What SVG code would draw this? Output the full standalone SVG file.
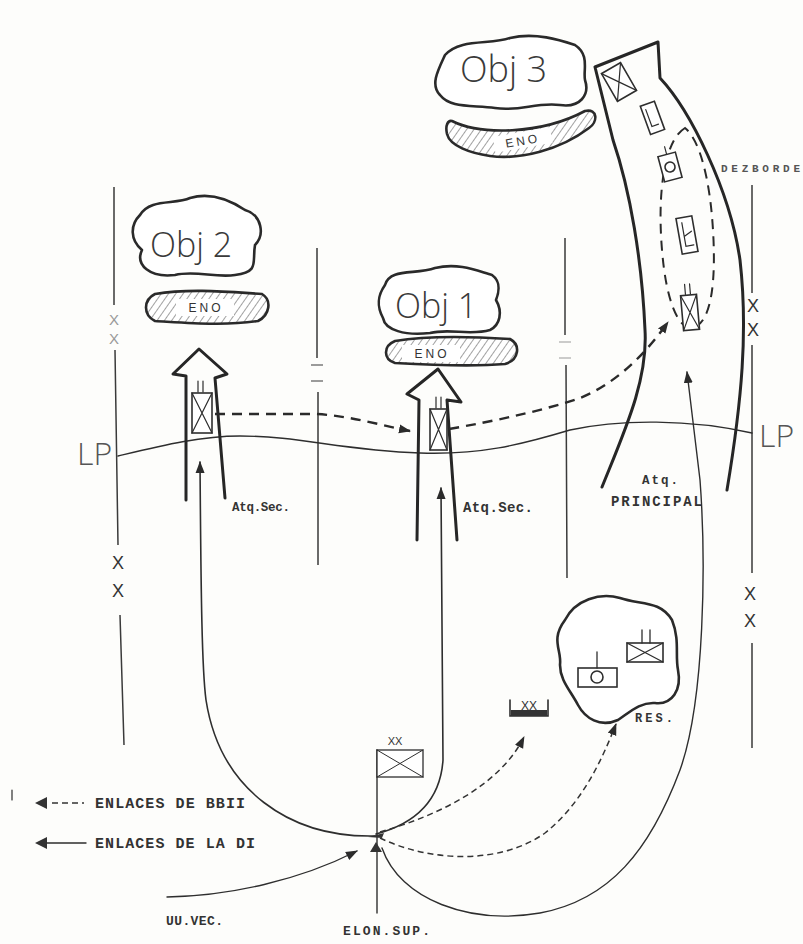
<svg xmlns="http://www.w3.org/2000/svg" width="803" height="944" viewBox="0 0 803 944">
<style>
.ln{fill:none;stroke:#2e2e2e;stroke-width:1.6;stroke-linecap:round}
.bd{fill:none;stroke:#3a3a3a;stroke-width:1.5}
.thick{fill:none;stroke:#262626;stroke-width:3;stroke-linejoin:round;stroke-linecap:round}
.blob{fill:#fff;stroke:#2a2a2a;stroke-width:2.6;stroke-linejoin:round}
.eno{fill:url(#hatch);stroke:#2a2a2a;stroke-width:2.6}
.sym{fill:#fff;stroke:#2e2e2e;stroke-width:1.6}
.dash{fill:none;stroke:#2a2a2a;stroke-width:2.4;stroke-dasharray:10 7}
.cdash{fill:none;stroke:#333;stroke-width:1.5;stroke-dasharray:6 4}
.obj{font-family:"Open Sans","Liberation Sans",Arial,sans-serif;font-weight:300;font-size:34px;fill:#3a3a3a}
.tw{font-family:"Liberation Mono","DejaVu Sans Mono",monospace;fill:#333}
.b{font-weight:bold}
.x{font-family:"Liberation Sans",Arial,sans-serif;font-size:18px;fill:#333;text-anchor:middle}
.enot{font-family:"Liberation Sans",Arial,sans-serif;font-size:12px;fill:#333;text-anchor:middle;letter-spacing:3px}
</style>
<defs>
<pattern id="hatch" width="6" height="6" patternUnits="userSpaceOnUse" patternTransform="rotate(35)">
<rect width="6" height="6" fill="#fff"/>
<line x1="0" y1="0" x2="0" y2="6" stroke="#8a8a8a" stroke-width="1.6"/>
</pattern>
<marker id="ah" viewBox="0 0 12 10" refX="11" refY="5" markerWidth="12" markerHeight="10" markerUnits="userSpaceOnUse" orient="auto">
<path d="M0,0.5 L12,5 L0,9.5 Z" fill="#2b2b2b"/>
</marker>
</defs>
<rect width="803" height="944" fill="#fdfdfb"/>

<g id="boundaries">
<path class="bd" d="M114,187 L114,305 M115,350 L118,545 M120,615 L124,745"/>
<text class="x" x="114" y="325" style="fill:#999;font-size:15px">X</text>
<text class="x" x="114" y="344" style="fill:#999;font-size:15px">X</text>
<text class="x" x="118" y="569">X</text>
<text class="x" x="118" y="597">X</text>
<path class="bd" d="M317,248 L317,358 M318,392 L318,565"/>
<path class="bd" d="M311,365 L323,365 M311,381 L323,381" style="stroke-width:1.2"/>
<path class="bd" d="M565,238 L565,335 M566,365 L567,578"/>
<path class="bd" d="M559,342 L571,342 M559,358 L571,358" style="stroke:#999;stroke-width:1.2"/>
<path class="bd" d="M752,185 L752,293 M752,345 L752,573 M752,643 L752,748"/>
<text class="x" x="753" y="312">X</text>
<text class="x" x="753" y="336">X</text>
<text class="x" x="750" y="600">X</text>
<text class="x" x="750" y="627">X</text>
<text class="tw b" x="721" y="172" style="font-size:11px;fill:#555" textLength="79">DEZBORDE</text>
</g>

<g id="lp-line">
<path class="ln" style="stroke-width:1.4" d="M118,456 C 160,446 200,436 240,436 C 300,436 340,450 420,453 C 480,455 520,445 570,430 C 620,419 690,419 752,433"/>
<text class="obj" x="77" y="465" style="font-size:32px;fill:#555">LP</text>
<text class="obj" x="759" y="447" style="font-size:32px;fill:#555">LP</text>
</g>

<g id="obj2">
<path class="blob" d="M140,215 C 150,198 175,205 190,198 C 210,192 230,200 245,210 C 262,215 265,235 255,245 C 252,262 260,272 235,275 C 215,278 195,270 175,275 C 150,278 135,265 142,250 C 130,240 130,225 140,215 Z"/>
<text class="obj" x="150" y="257">Obj 2</text>
</g>
<g id="eno2">
<path class="eno" d="M155,294 C 190,288 230,292 262,294 C 272,300 270,315 258,321 C 225,326 190,323 155,321 C 143,315 143,300 155,294 Z"/>
<rect x="176" y="299" width="58" height="17" fill="#fff"/>
<text class="enot" x="206" y="312">ENO</text>
</g>

<g id="obj1">
<path class="blob" d="M385,285 C 390,268 415,275 435,268 C 460,262 480,272 492,275 C 502,282 498,295 496,300 C 503,312 500,325 490,330 C 470,336 450,328 430,333 C 405,336 385,330 383,318 C 376,305 378,295 385,285 Z"/>
<text class="obj" x="395" y="318">Obj 1</text>
</g>
<g id="eno1">
<path class="eno" d="M395,341 C 430,335 480,337 510,339 C 521,345 519,360 505,364 C 470,367 430,365 395,363 C 383,359 383,346 395,341 Z"/>
<rect x="402" y="345" width="58" height="17" fill="#fff"/>
<text class="enot" x="432" y="358">ENO</text>
</g>

<g id="obj3">
<path class="blob" d="M445,55 C 460,38 490,45 510,38 C 535,32 560,40 575,45 C 590,55 583,70 585,80 C 590,95 580,108 560,105 C 535,102 520,112 495,108 C 470,105 450,108 440,95 C 430,85 438,70 445,55 Z"/>
<text class="obj" x="460" y="82" style="font-size:36px">Obj 3</text>
</g>
<g id="eno3">
<path class="eno" d="M452,121 C 480,135 540,135 585,111 C 598,108 598,122 589,128 C 560,150 520,160 490,156 C 470,153 450,146 447,134 C 445,125 448,120 452,121 Z"/>
<g transform="rotate(-10 522 142)">
<rect x="494" y="132" width="58" height="16" fill="#fff"/>
<text class="enot" x="523" y="145">ENO</text>
</g>
</g>

<g id="atq-sec-2">
<path class="thick" d="M186,500 L186,376 L173,374 L199,349 L227,374 L215,378 L225,498"/>
<rect class="sym" x="192" y="393" width="20" height="40"/>
<path class="ln" style="stroke-width:1.2" d="M192,393 L212,433 M212,393 L192,433 M198,381 L198,392 M203,381 L203,392"/>
<text class="tw b" x="232" y="511" style="font-size:12.5px" textLength="58">Atq.Sec.</text>
</g>

<g id="atq-sec-1">
<path class="thick" d="M417,540 L419,400 L407,394 L438,369 L461,402 L447,400 L457,540"/>
<rect class="sym" x="430" y="409" width="17" height="41"/>
<path class="ln" style="stroke-width:1.2" d="M430,409 L447,450 M447,409 L430,450 M436,397 L436,408 M441,397 L441,408"/>
<text class="tw b" x="463" y="512" style="font-size:14px" textLength="70">Atq.Sec.</text>
</g>

<g id="atq-principal">
<path class="thick" d="M602,487 C 625,430 648,380 645,330 C 642,260 630,190 613,140 L595,67 L658,42 L660,78 C 690,110 730,190 740,260 C 748,330 742,400 727,490"/>
<path class="dash" d="M685,128 C 665,140 657,190 662,250 C 666,300 678,330 693,328 C 712,322 716,280 713,230 C 710,180 700,140 685,128 Z" style="stroke-width:2"/>
<g transform="rotate(-30 619 82)">
<rect class="sym" x="608" y="66" width="22" height="32"/>
<path class="ln" style="stroke-width:1.2" d="M608,66 L630,98 M630,66 L608,98"/>
</g>
<g transform="rotate(-20 652 118)">
<rect class="sym" x="645" y="103" width="15" height="30"/>
<path class="ln" style="stroke-width:1.2" d="M649,108 L649,126 L656,126"/>
</g>
<g transform="rotate(-15 670 167)">
<rect class="sym" x="661" y="154" width="18" height="26"/>
<circle class="sym" cx="670" cy="167" r="5"/>
<path class="ln" style="stroke-width:1.2" d="M670,146 L670,154"/>
</g>
<g transform="rotate(-10 687 235)">
<rect class="sym" x="679" y="217" width="16" height="36"/>
<path class="ln" style="stroke-width:1.2" d="M684,222 L684,246 L692,246 M684,236 L692,232"/>
</g>
<g transform="rotate(-5 690 312)">
<rect class="sym" x="682" y="295" width="16" height="35"/>
<path class="ln" style="stroke-width:1.2" d="M682,295 L698,330 M698,295 L682,330 M687,284 L687,294 M692,284 L692,294"/>
</g>
<text class="tw b" x="642" y="484" style="font-size:12.5px" textLength="36">Atq.</text>
<text class="tw b" x="611" y="506" style="font-size:14px" textLength="91">PRINCIPAL</text>
</g>

<g id="reserva">
<path class="blob" d="M565,620 C 575,600 600,592 620,598 C 640,605 660,600 672,620 C 680,640 675,655 678,670 C 682,690 672,705 655,703 C 640,702 630,712 618,720 C 600,728 585,718 578,705 C 570,690 560,680 560,665 C 562,650 550,640 565,620 Z"/>
<rect class="sym" x="578" y="668" width="39" height="19"/>
<circle class="sym" cx="597" cy="677" r="6"/>
<path class="ln" style="stroke-width:1.3" d="M597,652 L597,668"/>
<rect class="sym" x="627" y="643" width="36" height="19"/>
<path class="ln" style="stroke-width:1.3" d="M627,643 L663,662 M663,643 L627,662 M642,630 L642,643 M650,630 L650,643"/>
<text class="tw b" x="635" y="722" style="font-size:12px" textLength="38">RES.</text>
</g>

<g id="division-xx">
<path class="ln" style="stroke-width:1.6" d="M510,700 L510,716 L548,716 L548,700"/>
<rect x="511" y="710" width="36" height="6" fill="#333"/>
<text class="x" x="529" y="710" style="font-size:12px">XX</text>
</g>

<g id="elon-sup">
<path class="ln" style="stroke-width:1.4" d="M377,750 L377,913"/>
<rect class="sym" x="377" y="750" width="46" height="27" style="stroke-width:1.3"/>
<path class="ln" style="stroke-width:1" d="M377,750 L423,777 M423,750 L377,777"/>
<text class="x" x="395" y="745" style="font-size:11px">XX</text>
<path d="M370,852 L376,842 L382,852 Z" fill="#333"/>
<path d="M368,837 L384,833 L382,838 Z" fill="#333"/>
<text class="tw b" x="343" y="935" style="font-size:13px" textLength="87">ELON.SUP.</text>
<text class="tw b" x="166" y="925" style="font-size:13px" textLength="57">UU.VEC.</text>
</g>

<g id="legend">
<path class="ln" style="stroke-width:1.2" d="M12,790 L12,800"/>
<path d="M35,803 L47,797 L47,809 Z" fill="#333"/>
<path class="cdash" d="M52,803 L84,803"/>
<text class="tw b" x="95" y="808" style="font-size:15px" textLength="150">ENLACES DE BBII</text>
<path d="M35,843 L47,837 L47,849 Z" fill="#333"/>
<path class="ln" style="stroke-width:1.4" d="M47,843 L86,843"/>
<text class="tw b" x="95" y="848" style="font-size:15px" textLength="160">ENLACES DE LA DI</text>
</g>

<g id="connectors">
<path class="dash" d="M215,414 L317,414 C 350,416 380,425 410,431" marker-end="url(#ah)"/>
<path class="dash" d="M449,429 C 500,420 545,410 580,398 C 615,384 645,355 668,322" marker-end="url(#ah)"/>
<path class="ln" d="M375,836 C 290,838 220,790 206,700 C 202,670 201,600 200,462" marker-end="url(#ah)"/>
<path class="ln" d="M376,834 C 410,825 440,805 443,760 L441,488" marker-end="url(#ah)"/>
<path class="cdash" d="M380,832 C 440,815 500,785 524,737" marker-end="url(#ah)"/>
<path class="cdash" d="M380,838 C 430,862 500,865 545,833 C 580,805 600,765 616,724" marker-end="url(#ah)"/>
<path class="ln" style="stroke-width:1.4" d="M382,848 C 400,900 470,925 540,913 C 610,900 650,850 680,770 C 705,700 706,560 700,480 L687,372" marker-end="url(#ah)"/>
<path class="ln" style="stroke-width:1.4" d="M167,897 C 230,896 300,880 357,851" marker-end="url(#ah)"/>
</g>
</svg>
